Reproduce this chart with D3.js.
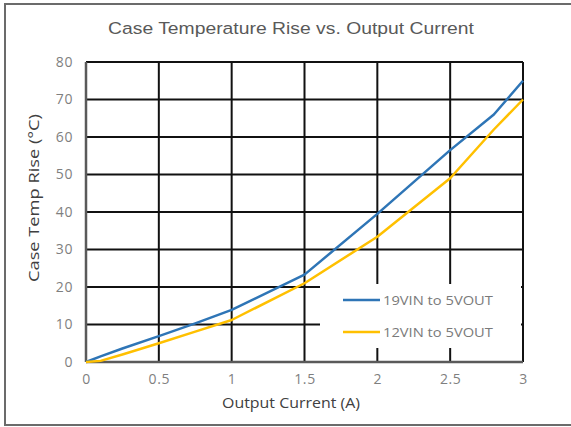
<!DOCTYPE html>
<html><head><meta charset="utf-8">
<script src="https://cdn.jsdelivr.net/npm/d3@7"></script>
<style>body{margin:0;background:#fff}svg{display:block}</style>
</head><body>
<script>
const currents = [0, 0.1, 0.25, 0.5, 0.75, 1.0, 1.5, 2.0, 2.5, 2.8, 3.0];
const rise19V = [0, 1.5, 3.6, 6.9, 10.3, 13.9, 23.3, 39.5, 56.5, 66.0, 75.0];
const rise12V = [0, 0.3, 2.0, 5.0, 8.1, 11.2, 21.0, 33.4, 49.0, 62.0, 70.0];
const xTicks = [0, 0.5, 1, 1.5, 2, 2.5, 3];
const xTickLabels = ["0", "0.5", "1", "1.5", "2", "2.5", "3"];
const yTicks = [0, 10, 20, 30, 40, 50, 60, 70, 80];
const seriesNames = ["19VIN to 5VOUT", "12VIN to 5VOUT"];
const seriesColors = ["#2E75B6", "#FFC000"];

const W = 571, H = 427;
const svg = d3.select("body").append("svg").attr("width", W).attr("height", H);
const m = {l: 86, r: 523, t: 62, b: 362};
const x = d3.scaleLinear().domain([0, 3]).range([m.l, m.r]);
const y = d3.scaleLinear().domain([0, 80]).range([m.b, m.t]);
const font = "'Liberation Sans', Arial, sans-serif";
const tickFont = "'Open Sans', 'DejaVu Sans', sans-serif";

// stretch a text element horizontally (along its own x axis) to a target width
function fitWidth(sel, target, anchorX, anchorY, rotate) {
  const node = sel.node();
  const w = node.getComputedTextLength();
  const s = target / w;
  sel.attr("x", 0).attr("y", 0)
    .attr("transform", `translate(${anchorX},${anchorY})${rotate ? ` rotate(${rotate})` : ""} scale(${s},1)`);
}

// outer border
svg.append("rect").attr("x", 5).attr("y", 4).attr("width", 600).attr("height", 421)
  .attr("fill", "none").attr("stroke", "#6b6b6b").attr("stroke-width", 2);

// title
const title = svg.append("text").attr("text-anchor", "middle")
  .attr("font-family", font).attr("font-size", 16.5).attr("fill", "#595959")
  .text("Case Temperature Rise vs. Output Current");
fitWidth(title, 366, 291, 34);

// grid
const g = svg.append("g");
g.selectAll(".hg").data(yTicks).join("line")
  .attr("x1", m.l).attr("x2", m.r).attr("y1", d => y(d)).attr("y2", d => y(d))
  .attr("stroke", "#111").attr("stroke-width", 2);
g.selectAll(".vg").data(xTicks).join("line")
  .attr("y1", m.t).attr("y2", m.b).attr("x1", d => x(d)).attr("x2", d => x(d))
  .attr("stroke", "#111").attr("stroke-width", 2);

// axes (d3 axes for labels)
const xAxis = svg.append("g").attr("transform", `translate(0,${m.b})`)
  .call(d3.axisBottom(x).tickValues(xTicks).tickFormat((d, i) => xTickLabels[i]).tickSize(0).tickPadding(12));
const yAxis = svg.append("g").attr("transform", `translate(${m.l},0)`)
  .call(d3.axisLeft(y).tickValues(yTicks).tickSize(0).tickPadding(13));
[xAxis, yAxis].forEach(a => {
  a.select(".domain").remove();
  a.selectAll("text").attr("font-family", tickFont).attr("font-size", 14)
    .attr("letter-spacing", 0.6).attr("fill", "#7f7f7f");
});
// axis lines (bottom/left) slightly gray
svg.append("line").attr("x1", m.l).attr("x2", m.r).attr("y1", m.b).attr("y2", m.b)
  .attr("stroke", "#5a5a5a").attr("stroke-width", 2.5);
svg.append("line").attr("x1", m.l).attr("x2", m.l).attr("y1", m.t).attr("y2", m.b)
  .attr("stroke", "#5a5a5a").attr("stroke-width", 2.5);

// series
const data = [rise19V, rise12V];
const line = d3.line().x((d, i) => x(currents[i])).y(d => y(d));
data.forEach((s, k) => {
  svg.append("path").datum(s).attr("d", line).attr("fill", "none")
    .attr("stroke", seriesColors[k]).attr("stroke-width", 2.5).attr("stroke-linejoin", "round");
});

// legend
svg.append("rect").attr("x", 320).attr("y", 284).attr("width", 201).attr("height", 64).attr("fill", "#fff");
const lg = svg.append("g");
seriesNames.forEach((n, k) => {
  const yy = 300 + k * 32;
  lg.append("line").attr("x1", 343).attr("x2", 380).attr("y1", yy).attr("y2", yy)
    .attr("stroke", seriesColors[k]).attr("stroke-width", 2.5);
  const t = lg.append("text").attr("font-family", tickFont)
    .attr("font-size", 13.5).attr("fill", "#7a7a7a").text(n);
  fitWidth(t, 110, 383, yy + 5);
});

// axis titles
const xt = svg.append("text").attr("text-anchor", "middle")
  .attr("font-family", tickFont).attr("font-size", 14.5).attr("fill", "#404040")
  .text("Output Current (A)");
fitWidth(xt, 138, 291, 408);
const yt = svg.append("text").attr("text-anchor", "middle")
  .attr("font-family", tickFont).attr("font-size", 14.5).attr("fill", "#404040")
  .text("Case Temp Rise (°C)");
fitWidth(yt, 168, 39, 198, -90);
</script>
</body></html>
